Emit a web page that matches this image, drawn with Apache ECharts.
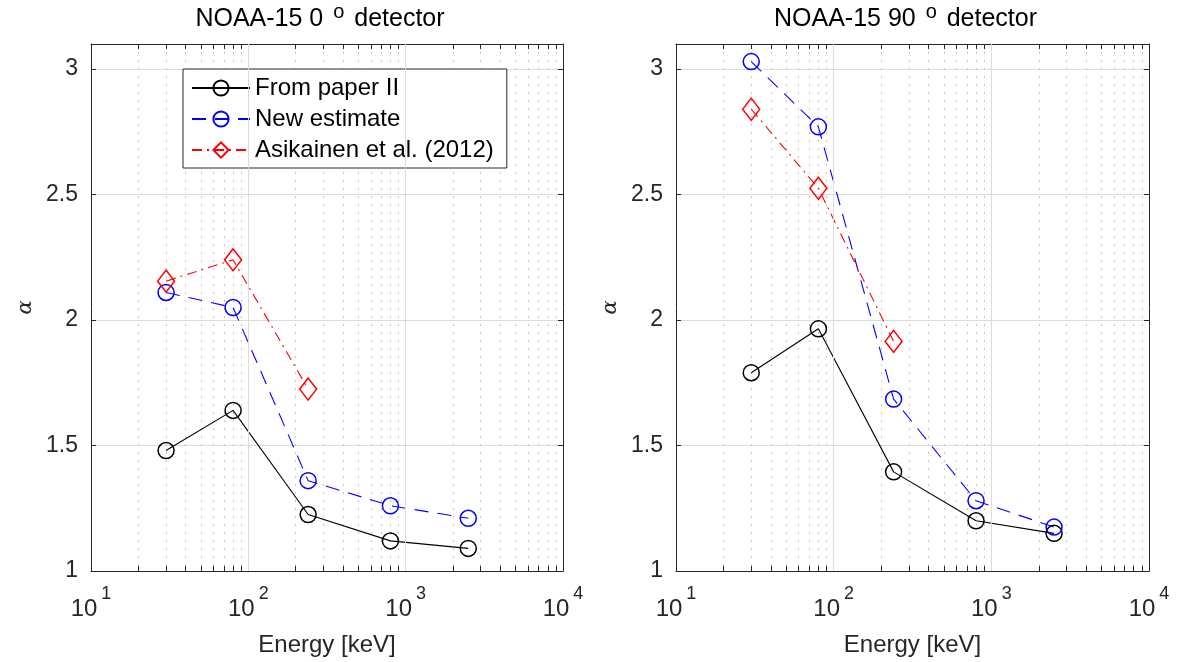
<!DOCTYPE html>
<html>
<head>
<meta charset="utf-8">
<script src="https://cdn.jsdelivr.net/npm/echarts@6/dist/echarts.min.js"></script>
<style>
  html, body { margin: 0; padding: 0; background: #fff; }
  #chart { width: 1182px; height: 662px; }
</style>
</head>
<body>
<div id="chart"></div>
<script>
// energy channels [keV]
const energies = [30, 80, 240, 800, 2500];
const energiesAsik = [30, 80, 240];

// 0 deg detector
const paper0 = [1.48, 1.64, 1.225, 1.12, 1.09];
const new0 = [2.11, 2.05, 1.36, 1.26, 1.21];
const asik0 = [2.155, 2.24, 1.725];

// 90 deg detector
const paper90 = [1.79, 1.965, 1.395, 1.2, 1.15];
const new90 = [3.03, 2.77, 1.685, 1.28, 1.175];
const asik90 = [2.84, 2.525, 1.915];

// axis ticks
const decades = [10, 100, 1000, 10000];
const innerDecades = [100, 1000];
const logTicks = [10, 20, 30, 40, 50, 60, 70, 80, 90,
  100, 200, 300, 400, 500, 600, 700, 800, 900,
  1000, 2000, 3000, 4000, 5000, 6000, 7000, 8000, 9000, 10000];

const seriesNames = ['From paper II', 'New estimate', 'Asikainen et al. (2012)'];
const titles = ['{m|NOAA-15 0 }{s|o}{m| detector}', '{m|NOAA-15 90 }{s|o}{m| detector}'];

const font = '"Liberation Sans", Arial, Helvetica, sans-serif';
const axisColor = '#262626';

const chart = echarts.init(document.getElementById('chart'));

function pairs(xs, ys) {
  return xs.map((x, i) => [x, ys[i]]);
}

const grids = [
  { left: 91, top: 44, width: 472, height: 528 },
  { left: 676, top: 44, width: 473, height: 528 }
];

const xAxes = [];
const yAxes = [];
grids.forEach((g, i) => {
  // bottom: labels, ticks, dotted minor grid
  xAxes.push({
    type: 'log', logBase: 10, gridIndex: i, position: 'bottom',
    min: 10, max: 10000,
    name: 'Energy [keV]', nameLocation: 'middle', nameGap: 62,
    nameTextStyle: { fontFamily: font, fontSize: 24, color: axisColor },
    axisLine: { show: true, lineStyle: { color: axisColor, width: 1 } },
    axisTick: { show: true, inside: true, length: 5, customValues: logTicks,
      lineStyle: { color: axisColor, width: 1 } },
    axisLabel: {
      customValues: decades, margin: 14,
      formatter: v => '{b|10}{s|' + Math.round(Math.log10(v)) + '}',
      rich: {
        b: { fontFamily: font, fontSize: 24, color: axisColor, lineHeight: 36, verticalAlign: 'bottom' },
        s: { fontFamily: font, fontSize: 18, color: axisColor, lineHeight: 16, verticalAlign: 'top', padding: [0, 0, 0, 4] }
      }
    },
    splitLine: { show: true, lineStyle: { color: '#c4c4c4', width: 1, type: [2, 6] } },
    minorTick: { show: false }
  });
  // top: box edge with ticks
  xAxes.push({
    type: 'log', logBase: 10, gridIndex: i, position: 'top',
    min: 10, max: 10000,
    axisLine: { show: true, lineStyle: { color: axisColor, width: 1 } },
    axisTick: { show: true, inside: true, length: 5, customValues: logTicks,
      lineStyle: { color: axisColor, width: 1 } },
    axisLabel: { show: false },
    splitLine: { show: false }
  });
  yAxes.push({
    type: 'value', gridIndex: i, position: 'left',
    min: 1, max: 3.1, interval: 0.5,
    name: 'α', nameLocation: 'middle', nameGap: 55, nameRotate: 90,
    nameTextStyle: { fontFamily: '"DejaVu Serif", serif', fontStyle: 'italic', fontSize: 21, color: axisColor },
    axisLine: { show: true, lineStyle: { color: axisColor, width: 1 } },
    axisTick: { show: true, inside: true, length: 5, lineStyle: { color: axisColor } },
    axisLabel: { fontFamily: font, fontSize: 23, color: axisColor, margin: 13, showMaxLabel: false },
    splitLine: { show: true, lineStyle: { color: '#dcdcdc', width: 1 } }
  });
  yAxes.push({
    type: 'value', gridIndex: i, position: 'right',
    min: 1, max: 3.1, interval: 0.5,
    axisLine: { show: true, lineStyle: { color: axisColor, width: 1 } },
    axisTick: { show: true, inside: true, length: 5, lineStyle: { color: axisColor } },
    axisLabel: { show: false },
    splitLine: { show: false }
  });
});

function makeSeries(name, data, panel, color, dash, symbol, size) {
  return {
    name: name, type: 'line', data: data,
    xAxisIndex: panel * 2, yAxisIndex: panel * 2,
    symbol: symbol, symbolSize: size, showSymbol: true,
    lineStyle: { color: color, width: 1.1, type: dash },
    itemStyle: { color: 'rgba(255,255,255,0)', borderColor: color, borderWidth: 1.5 },
    emphasis: { disabled: true },
    animation: false, z: 3
  };
}

const series = [];
[[paper0, new0, asik0], [paper90, new90, asik90]].forEach((set, p) => {
  const black = makeSeries(seriesNames[0], pairs(energies, set[0]), p, '#000000', 'solid', 'circle', 16);
  black.markLine = {
    silent: true, symbol: 'none', label: { show: false },
    lineStyle: { color: '#dcdcdc', width: 1, type: 'solid' },
    data: innerDecades.map(v => ({ xAxis: v }))
  };
  series.push(black);
  series.push(makeSeries(seriesNames[1], pairs(energies, set[1]), p, '#0000ff', [14, 9], 'circle', 16));
  series.push(makeSeries(seriesNames[2], pairs(energiesAsik, set[2]), p, '#ff0000', [10, 5, 2, 5], 'diamond', [17, 22]));
});

const option = {
  backgroundColor: '#ffffff',
  animation: false,
  title: titles.map((t, i) => ({
    text: t,
    left: grids[i].left + grids[i].width / 2 - 12,
    textAlign: 'center',
    top: -3,
    textStyle: {
      fontFamily: font, fontSize: 25, fontWeight: 'normal', color: '#000',
      rich: {
        m: { fontFamily: font, fontSize: 25, color: '#000', lineHeight: 30, verticalAlign: 'bottom' },
        s: { fontFamily: font, fontSize: 20, color: '#000', lineHeight: 12, verticalAlign: 'top', padding: [0, 3, 0, 3] }
      }
    }
  })),
  legend: {
    data: seriesNames,
    left: 183, top: 69,
    orient: 'vertical',
    padding: [7, 13, 6, 8],
    itemGap: 7,
    itemWidth: 58, itemHeight: 19,
    backgroundColor: '#ffffff',
    borderColor: axisColor, borderWidth: 1, borderRadius: 0,
    textStyle: { fontFamily: font, fontSize: 24, color: '#000' },
    selectedMode: false
  },
  grid: grids,
  xAxis: xAxes,
  yAxis: yAxes,
  series: series
};

chart.setOption(option);
</script>
</body>
</html>
